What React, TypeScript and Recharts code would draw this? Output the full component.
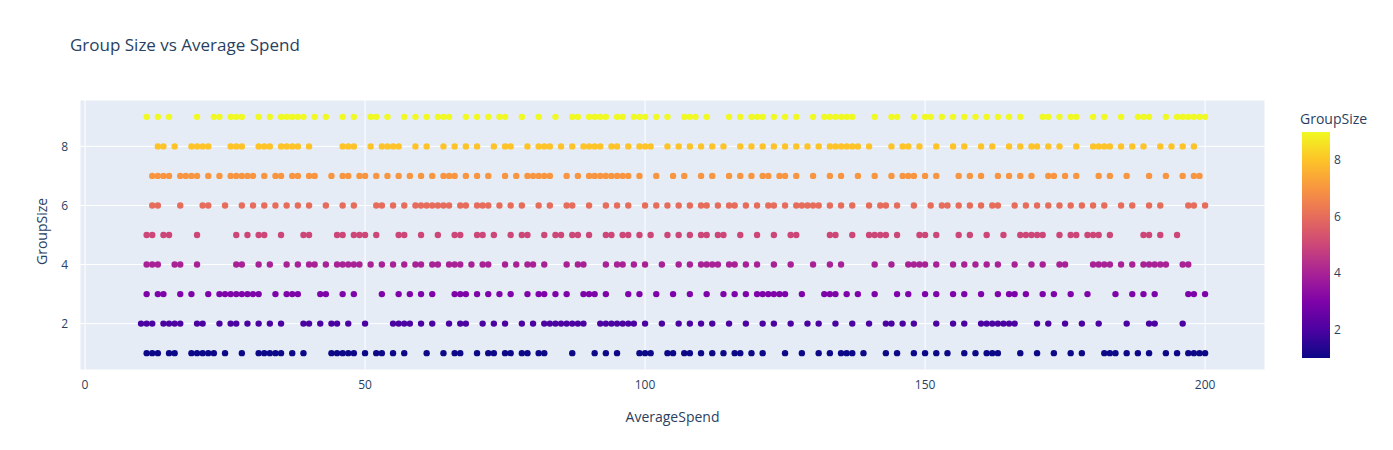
import { ScatterChart, Scatter, XAxis, YAxis, CartesianGrid } from "recharts";

const groupSizes = [1, 2, 3, 4, 5, 6, 7, 8, 9];
const groupColors = ["#0d0887", "#4c02a1", "#7e03a8", "#a82296", "#cc4778", "#e66c5c", "#f89540", "#fdc328", "#f0f921"];

const spend1 = [11,12,13,15,16,19,20,21,22,23,25,28,31,32,33,34,35,37,39,44,45,46,47,48,50,52,53,55,57,61,64,66,67,70,72,73,75,76,78,79,81,82,87,91,93,95,99,100,101,104,105,107,108,110,112,114,116,117,119,121,125,128,131,133,135,136,137,139,143,145,148,150,152,154,157,159,161,162,163,167,170,173,176,178,182,183,184,186,188,190,193,195,197,198,199,200];
const spend2 = [10,11,12,14,15,16,17,20,21,24,26,27,29,31,33,35,39,40,42,44,45,47,50,55,56,57,58,60,62,65,67,68,71,73,75,78,80,82,83,84,85,86,87,88,89,92,93,94,95,96,97,98,100,103,106,108,110,112,115,118,121,123,126,129,131,134,137,140,143,144,146,148,152,155,157,160,161,162,163,164,165,166,170,172,175,178,181,186,190,191,196];
const spend3 = [11,13,14,17,19,22,24,25,26,27,28,29,30,31,34,36,37,38,42,43,46,48,53,56,58,60,62,66,67,68,70,72,74,76,79,81,82,84,86,89,90,91,93,97,99,102,105,108,111,114,116,118,120,121,122,123,124,125,128,132,133,134,136,138,141,145,147,150,152,155,157,160,163,165,166,168,171,173,176,179,184,187,189,191,197,198,200];
const spend4 = [11,12,13,16,17,20,27,28,31,33,36,38,40,41,43,45,46,47,48,49,51,53,55,57,59,60,62,63,65,66,67,69,71,72,75,77,79,80,82,86,88,89,93,95,96,98,100,103,106,108,110,111,112,113,115,116,118,120,123,126,130,133,135,141,144,147,148,149,150,152,155,157,159,161,163,166,169,171,174,175,180,181,182,183,185,187,189,190,191,192,193,196,197];
const spend5 = [11,12,14,15,20,27,29,31,32,35,39,40,45,46,48,49,50,52,56,57,60,63,66,67,70,71,73,76,78,79,82,84,85,87,88,90,93,94,96,97,99,101,104,106,108,110,111,113,114,117,120,123,126,127,133,134,137,140,141,142,143,145,149,150,152,156,158,161,164,167,168,169,170,171,174,176,177,179,180,181,183,189,190,192,195];
const spend6 = [12,13,17,21,22,25,28,30,32,34,36,38,40,43,46,48,52,53,55,57,59,60,61,62,63,64,65,67,68,70,71,72,74,76,78,81,83,86,87,90,93,95,97,100,102,104,106,108,110,111,113,115,116,118,120,122,123,125,127,128,129,130,131,133,135,137,140,142,143,145,148,151,153,154,156,158,160,162,163,166,168,170,172,174,176,178,180,182,185,187,190,192,197,198,200];
const spend7 = [12,13,14,15,17,18,19,20,22,24,26,27,28,29,30,32,34,35,37,38,40,41,44,46,47,49,50,52,54,56,58,60,62,64,65,66,68,70,72,75,77,79,80,81,82,83,86,88,90,91,92,93,94,95,96,97,99,102,105,107,110,112,115,117,119,121,122,124,125,127,130,133,135,138,141,144,146,147,148,150,152,156,158,160,163,165,167,169,172,173,175,177,181,183,186,190,193,196,198,199];
const spend8 = [13,14,16,19,20,21,22,26,27,28,31,32,33,35,36,37,38,40,46,47,48,51,53,54,55,56,59,61,64,66,68,70,73,75,76,79,81,82,83,85,87,89,90,91,92,94,95,97,99,100,101,104,106,108,110,112,114,117,119,121,123,125,127,129,131,133,134,135,136,137,138,140,144,146,147,149,152,155,157,160,162,165,167,169,170,172,174,177,180,181,182,183,185,187,189,192,194,196,198];
const spend9 = [11,13,15,20,23,24,26,27,28,31,33,35,36,37,38,39,41,43,46,48,51,52,54,57,59,61,63,64,65,68,70,72,74,75,78,81,84,87,88,90,91,92,93,95,96,98,99,100,102,104,107,108,109,111,115,117,119,120,121,123,125,127,130,132,133,134,135,136,137,141,144,145,148,150,151,153,155,157,159,161,163,165,167,171,172,174,176,177,180,182,185,188,189,190,193,195,196,197,198,199,200];

const spendByGroup = [spend1, spend2, spend3, spend4, spend5, spend6, spend7, spend8, spend9];
const xTicks = [0, 50, 100, 150, 200];
const yTicks = [2, 4, 6, 8];
const barTicks = [2, 4, 6, 8];

const font = "'Open Sans', Verdana, Arial, sans-serif";

export default function App() {
	return (
		<div style={{ position: "absolute", left: 0, top: 0, width: 1393, height: 450, background: "#fff", fontFamily: font }}>
			<div style={{ position: "absolute", left: 70, top: 33, fontSize: 17, color: "#2a3f5f" }}>Group Size vs Average Spend</div>
			<ScatterChart width={1393} height={450} margin={{ top: 100, right: 128, bottom: 50, left: 0 }}>
				<CartesianGrid stroke="#fff" strokeWidth={1} fill="#e5ecf6" fillOpacity={1} />
				<XAxis type="number" dataKey="x" height={30} domain={[-0.9, 210.7]} ticks={xTicks} axisLine={false} tickLine={false}
					tick={{ fill: "#2a3f5f", fontSize: 12, fontFamily: font }} tickMargin={4}
					label={{ value: "AverageSpend", position: "insideBottom", offset: -22, fill: "#2a3f5f", fontSize: 14, fontFamily: font }} />
				<YAxis type="number" dataKey="y" width={80} domain={[0.43, 9.57]} ticks={yTicks} axisLine={false} tickLine={false}
					tick={{ fill: "#2a3f5f", fontSize: 12, fontFamily: font }} tickMargin={6}
					label={{ value: "GroupSize", angle: -90, position: "insideLeft", offset: 42, dy: 30, fill: "#2a3f5f", fontSize: 14, fontFamily: font }} />
				{groupSizes.map((g, i) => (
					<Scatter key={g} data={spendByGroup[i].map((x) => ({ x, y: g }))} fill={groupColors[i]}
						isAnimationActive={false}
						shape={(p: any) => <circle cx={p.cx} cy={p.cy} r={3.2} fill={groupColors[i]} />} />
				))}
			</ScatterChart>
			<div style={{ position: "absolute", left: 1300, top: 109, fontSize: 14, color: "#2a3f5f" }}>GroupSize</div>
			<svg style={{ position: "absolute", left: 1300, top: 130 }} width={60} height={232}>
				<defs>
					<linearGradient id="cb" x1="0" y1="1" x2="0" y2="0">
						{groupColors.map((c, i) => <stop key={i} offset={i / 8} stopColor={c} />)}
					</linearGradient>
				</defs>
				<rect x={2} y={2} width={28} height={226} fill="url(#cb)" />
				{barTicks.map((t) => {
					const y = 2 + 226 - ((t - 1) / 8) * 226;
					return <text key={t} x={34} y={y + 4} fontSize={12} fill="#2a3f5f" fontFamily={font}>{t}</text>;
				})}
			</svg>
		</div>
	);
}
